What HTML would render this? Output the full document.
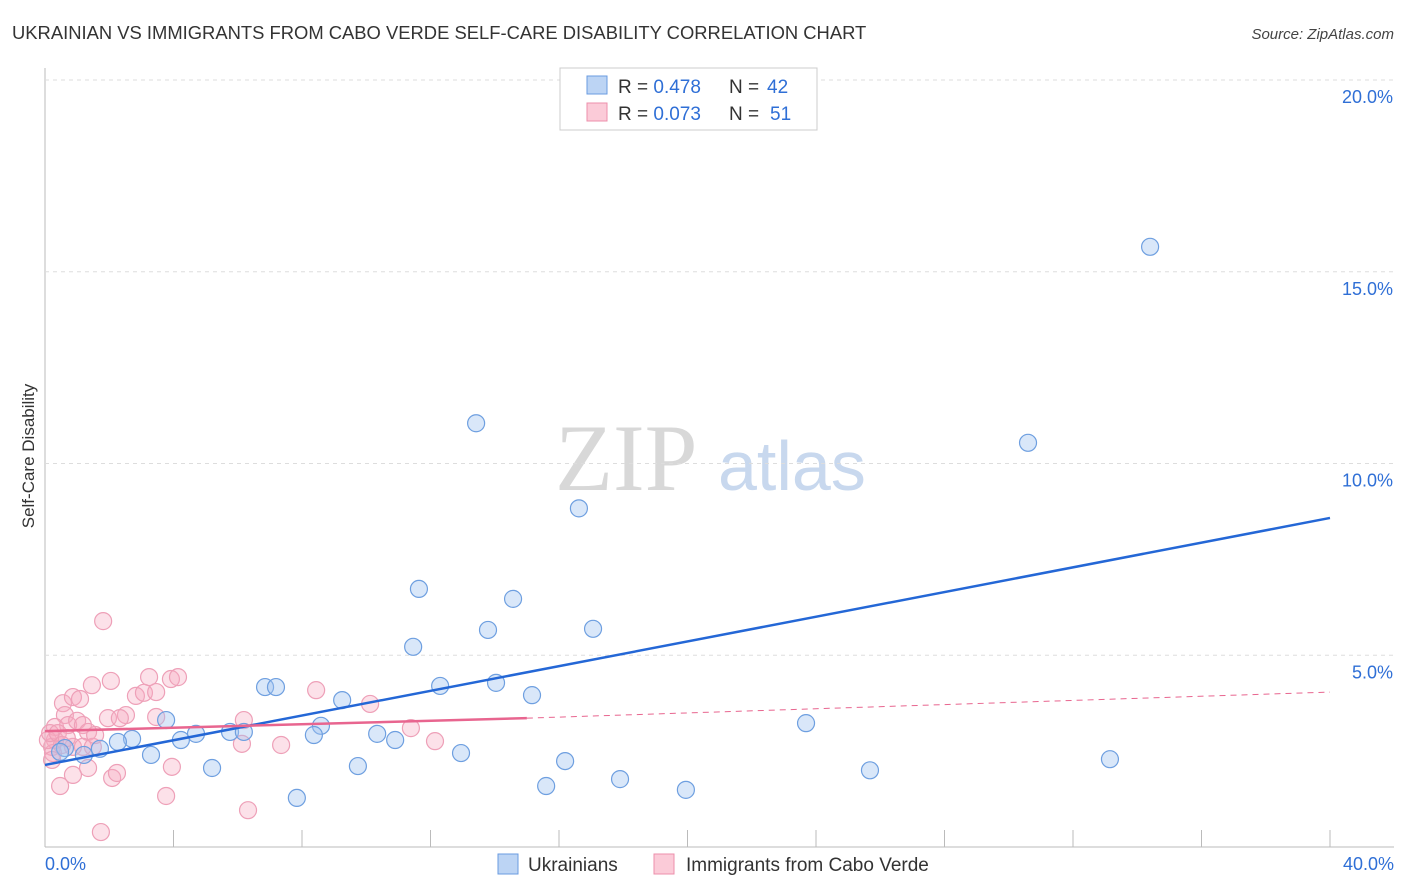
<!DOCTYPE html>
<html><head><meta charset="utf-8"><style>
body{margin:0;background:#fff;font-family:"Liberation Sans",sans-serif}
svg{display:block}
</style></head><body>
<svg id="c" width="1406" height="892">
<text x="12" y="39" font-size="18.4" fill="#333">UKRAINIAN VS IMMIGRANTS FROM CABO VERDE SELF-CARE DISABILITY CORRELATION CHART</text>
<text x="1394" y="39" font-size="15" fill="#444" font-style="italic" text-anchor="end">Source: ZipAtlas.com</text>
<text x="34" y="456" font-size="17" fill="#333" text-anchor="middle" transform="rotate(-90 34 456)">Self-Care Disability</text>
<text x="555" y="490" font-size="95" fill="#d8d8d8" font-family="Liberation Serif,serif">ZIP</text>
<text x="718" y="490" font-size="70" fill="#c8d8ee">atlas</text>
<g id="grid"></g><g id="pts"></g><g id="lines"></g>
<g>
<rect x="560" y="68" width="257" height="62" fill="#fff" stroke="#ccc"/>
<rect x="587" y="76" width="20" height="18" fill="#bcd4f4" stroke="#6a9be0"/>
<rect x="587" y="103" width="20" height="18" fill="#fbcbd8" stroke="#ec8fab"/>
<text x="618" y="93" font-size="19" fill="#333">R = <tspan fill="#2f6fd6">0.478</tspan></text>
<text x="729" y="93" font-size="19" fill="#333">N =</text>
<text x="767" y="93" font-size="19" fill="#2f6fd6">42</text>
<text x="618" y="120" font-size="19" fill="#333">R = <tspan fill="#2f6fd6">0.073</tspan></text>
<text x="729" y="120" font-size="19" fill="#333">N =</text>
<text x="770" y="120" font-size="19" fill="#2f6fd6">51</text>
</g>
<g>
<rect x="498" y="854" width="20" height="20" fill="#bcd4f4" stroke="#6a9be0"/>
<text x="528" y="871" font-size="19" fill="#333">Ukrainians</text>
<rect x="654" y="854" width="20" height="20" fill="#fbcbd8" stroke="#ec8fab"/>
<text x="686" y="871" font-size="19" fill="#333">Immigrants from Cabo Verde</text>
</g>
</svg>
<script>
const yTicks=[5,10,15,20];
const yTickLabels=["5.0%","10.0%","15.0%","20.0%"];
const xTicks=[0,4,8,12,16,20,24,28,32,36,40];
const xLabels=["0.0%","40.0%"];
const blueX=[34.4,13.42,30.6,16.62,11.64,14.57,13.79,17.06,11.46,6.85,7.19,12.30,14.04,15.16,9.25,3.77,8.59,23.69,5.76,6.19,4.70,4.23,2.71,8.37,10.34,10.90,2.27,1.71,0.62,0.47,1.21,3.30,12.95,16.19,9.74,5.20,33.15,25.68,17.90,15.60,19.95,7.84];
const blueY=[15.65,11.05,10.54,8.83,6.73,6.47,5.66,5.69,5.22,4.17,4.17,4.2,4.28,3.96,3.83,3.31,3.16,3.23,3.0,3.0,2.95,2.79,2.82,2.92,2.95,2.79,2.74,2.56,2.58,2.48,2.40,2.40,2.45,2.24,2.11,2.06,2.29,2.0,1.77,1.59,1.49,1.28];
const pinkX=[1.81,1.46,2.05,3.24,3.92,4.14,0.56,0.87,1.09,2.83,3.08,3.46,1.96,2.52,2.33,3.46,0.62,0.31,0.72,1.00,1.18,1.34,0.31,0.22,0.25,0.87,1.18,1.49,1.34,0.87,2.09,2.24,0.47,1.74,3.77,3.95,6.19,6.13,6.32,7.35,8.44,10.12,11.39,12.14,0.09,0.16,0.40,0.53,0.68,0.22,1.56];
const pinkY=[5.89,4.22,4.33,4.43,4.38,4.43,3.75,3.91,3.86,3.94,4.02,4.04,3.36,3.44,3.36,3.39,3.44,3.13,3.18,3.29,3.18,3.0,2.79,2.61,2.45,2.61,2.61,2.61,2.06,1.88,1.80,1.93,1.59,0.39,1.33,2.09,3.31,2.69,0.96,2.66,4.09,3.73,3.10,2.76,2.79,2.97,2.97,2.66,2.84,2.27,2.92];
const blueTrend=[2.14,8.58];
const pinkTrend=[3.02,3.36,4.04];
const sx=v=>45+v*1285/40, sy=v=>847-v*38.35;
const NS="http://www.w3.org/2000/svg";
function mk(t,a,p){const e=document.createElementNS(NS,t);for(const k in a)e.setAttribute(k,a[k]);p.appendChild(e);return e;}
const g=document.getElementById('grid');
let ax=mk('line',{x1:45,y1:68,x2:45,y2:847,stroke:'#bbb'},g);


let bx=mk('line',{x1:45,y1:847,x2:1394,y2:847,stroke:'#bbb'},g);


yTicks.forEach((t,i)=>{
 const l=mk('line',{x1:45,x2:1394,y1:sy(t),y2:sy(t),stroke:'#ddd','stroke-dasharray':'4,4'},g);
 
 
 const tx=mk('text',{x:1393,y:sy(t)+23,'font-size':18,fill:'#2f6fd6','text-anchor':'end'},g);
 tx.textContent=yTickLabels[i];
 
 
});
xTicks.forEach(t=>{
 const l=mk('line',{x1:sx(t),x2:sx(t),y1:830,y2:847,stroke:'#bbb'},g);
 
 
});
[[0,'start',45],[40,'end',1394]].forEach((d,i)=>{
 const tx=mk('text',{x:d[2],y:870,'font-size':18,fill:'#2f6fd6','text-anchor':d[1]},g);
 tx.textContent=xLabels[i];
 
 
});
const p=document.getElementById('pts');
pinkX.forEach((x,i)=>{
 const c=mk('circle',{cx:sx(x),cy:sy(pinkY[i]),r:8.5,fill:'rgba(246,170,192,0.35)',stroke:'#eea0b8','stroke-width':1.2},p);
 
 
});
blueX.forEach((x,i)=>{
 const c=mk('circle',{cx:sx(x),cy:sy(blueY[i]),r:8.5,fill:'rgba(160,196,240,0.4)',stroke:'#6e9fe0','stroke-width':1.2},p);
 
 
});
const L=document.getElementById('lines');
let b=mk('line',{x1:sx(0),y1:sy(blueTrend[0]),x2:sx(40),y2:sy(blueTrend[1]),stroke:'#2467d6','stroke-width':2.5},L);


let pk=mk('line',{x1:sx(0),y1:sy(pinkTrend[0]),x2:sx(15),y2:sy(pinkTrend[1]),stroke:'#e8658f','stroke-width':2.5},L);


let pd=mk('line',{x1:sx(15),y1:sy(pinkTrend[1]),x2:sx(40),y2:sy(pinkTrend[2]),stroke:'#e8658f','stroke-width':1,'stroke-dasharray':'6,5'},L);


</script>
</body></html>
